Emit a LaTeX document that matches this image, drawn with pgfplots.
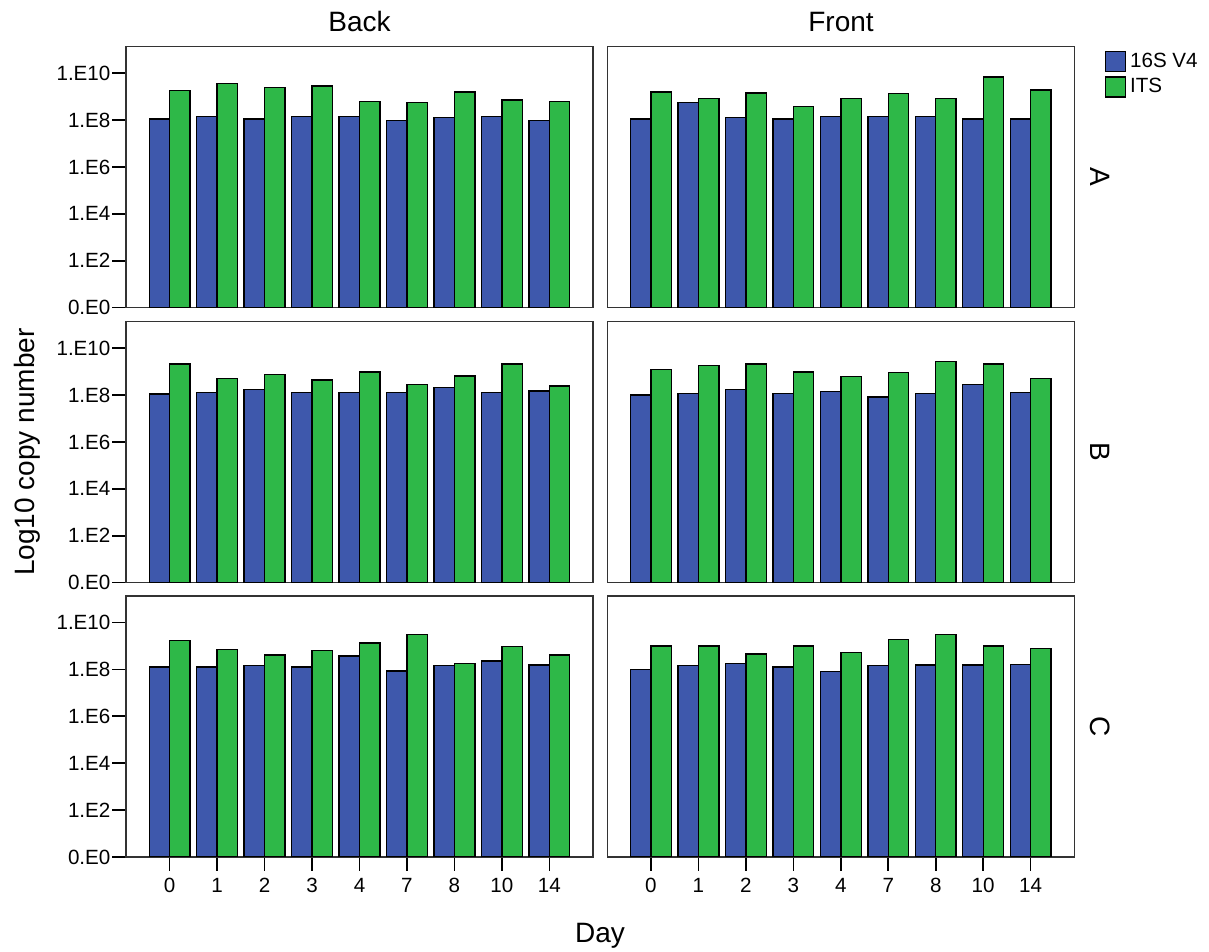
\documentclass[border=0pt]{standalone}
\usepackage{fontspec}
\setmainfont{Liberation Sans}
\usepackage{pgfplots}
\usepackage{pgfplotstable}
\pgfplotsset{compat=1.18}
\definecolor{cBlue}{HTML}{3E58AC}
\definecolor{cGreen}{HTML}{2EB848}

\pgfplotstableread{
x s its
0 8.04 9.25
1 8.15 9.57
2 8.04 9.39
3 8.15 9.46
4 8.15 8.78
5 7.98 8.76
6 8.12 9.19
7 8.15 8.85
8 7.98 8.78
}\backA
\pgfplotstableread{
x s its
0 8.05 9.20
1 8.76 8.93
2 8.11 9.15
3 8.05 8.58
4 8.15 8.93
5 8.15 9.13
6 8.15 8.92
7 8.05 9.83
8 8.05 9.29
}\frontA
\pgfplotstableread{
x s its
0 8.04 9.33
1 8.11 8.72
2 8.25 8.89
3 8.12 8.65
4 8.11 8.98
5 8.12 8.44
6 8.32 8.82
7 8.11 9.32
8 8.18 8.39
}\backB
\pgfplotstableread{
x s its
0 8.01 9.10
1 8.08 9.25
2 8.25 9.33
3 8.08 8.98
4 8.15 8.79
5 7.91 8.97
6 8.08 9.42
7 8.44 9.33
8 8.11 8.72
}\frontB
\pgfplotstableread{
x s its
0 8.10 9.23
1 8.10 8.85
2 8.17 8.61
3 8.10 8.81
4 8.57 9.13
5 7.94 9.50
6 8.17 8.25
7 8.35 8.98
8 8.18 8.61
}\backC
\pgfplotstableread{
x s its
0 8.00 8.99
1 8.17 8.99
2 8.25 8.65
3 8.10 8.99
4 7.90 8.71
5 8.17 9.28
6 8.18 9.50
7 8.18 8.99
8 8.22 8.89
}\frontC

\pgfplotsset{
  panel/.style={
    scale only axis, width=233.5pt, height=130.5pt,
    xmin=-0.92, xmax=8.92, ymin=0, ymax=11.13,
    axis line style={black!80, line width=0.8pt},
    tick style={black, line width=0.8pt},
    tick align=outside, major tick length=7pt,
    xtick=\empty, ytick=\empty,
    xtick pos=bottom, ytick pos=left,
    ybar, bar width=0.43,
    /pgf/number format/assume math mode=true,
    tick label style={font=\fontsize{10.3}{12}\selectfont, black},
    yticklabel style={inner xsep=0.6pt},
    anchor=south west,
  },
  leftcol/.style={ytick={0,2,4,6,8,10}, yticklabels={0.E0,1.E2,1.E4,1.E6,1.E8,1.E10}},
  bottomrow/.style={xtick={0,...,8}, xticklabels={0,1,2,3,4,7,8,10,14}},
  s16/.style={fill=cBlue, draw=black, line width=0.7pt, bar shift=-0.215},
  sits/.style={fill=cGreen, draw=black, line width=0.7pt, bar shift=0.215},
}

\begin{document}
\begin{tikzpicture}
\useasboundingbox (0,0) rectangle (604.5pt,476pt);
% Row 1
\begin{axis}[panel, leftcol, at={(63pt,322.15pt)}]
\addplot[s16] table[x=x,y=s]{\backA};
\addplot[sits] table[x=x,y=its]{\backA};
\end{axis}
\begin{axis}[panel, at={(303.65pt,322.15pt)},
  legend image code/.code={\draw[#1,/tikz/.cd] (0pt,-5pt) rectangle (10pt,5pt);},
  legend style={at={(1,1)}, anchor=north west, xshift=15pt, yshift=-1pt, draw=none, fill=none,
    font=\fontsize{10.3}{12}\selectfont, inner sep=0pt, row sep=0pt,
    /tikz/every even column/.style={column sep=0pt}},
  legend cell align=left]
\addplot[s16] table[x=x,y=s]{\frontA};
\addplot[sits] table[x=x,y=its]{\frontA};
\legend{16S V4, ITS}
\end{axis}
% Row 2
\begin{axis}[panel, leftcol, at={(63pt,184.65pt)}]
\addplot[s16] table[x=x,y=s]{\backB};
\addplot[sits] table[x=x,y=its]{\backB};
\end{axis}
\begin{axis}[panel, at={(303.65pt,184.65pt)}]
\addplot[s16] table[x=x,y=s]{\frontB};
\addplot[sits] table[x=x,y=its]{\frontB};
\end{axis}
% Row 3
\begin{axis}[panel, leftcol, bottomrow, at={(63pt,47.5pt)}]
\addplot[s16] table[x=x,y=s]{\backC};
\addplot[sits] table[x=x,y=its]{\backC};
\end{axis}
\begin{axis}[panel, bottomrow, at={(303.65pt,47.5pt)}]
\addplot[s16] table[x=x,y=s]{\frontC};
\addplot[sits] table[x=x,y=its]{\frontC};
\end{axis}
% labels
\node[font=\fontsize{14}{16}\selectfont] at (179.75pt,465pt) {Back};
\node[font=\fontsize{14}{16}\selectfont] at (420.5pt,465pt) {Front};
\node[font=\fontsize{14}{16}\selectfont, rotate=-90] at (550pt,387.5pt) {A};
\node[font=\fontsize{14}{16}\selectfont, rotate=-90] at (550pt,250pt) {B};
\node[font=\fontsize{14}{16}\selectfont, rotate=-90] at (550pt,112.5pt) {C};
\node[font=\fontsize{14}{16}\selectfont, rotate=90] at (13.75pt,250pt) {Log10 copy number};
\node[font=\fontsize{14}{16}\selectfont, anchor=base] at (300pt,4.5pt) {Day};
\end{tikzpicture}
\end{document}
